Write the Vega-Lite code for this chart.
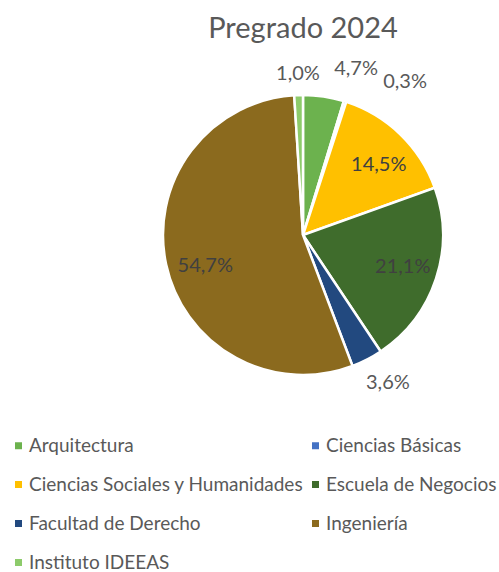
{
  "$schema": "https://vega.github.io/schema/vega-lite/v6.json",
  "width": 280,
  "height": 280,
  "autosize": "none",
  "padding": {"left": 163, "top": 95, "right": 56, "bottom": 197},
  "background": "white",
  "title": {"text": "Pregrado 2024", "fontSize": 29, "font": "Lato", "fontWeight": "normal", "color": "#595959", "anchor": "middle", "frame": "group", "offset": 13},
  "data": {"values": [
    {"Facultad": "Arquitectura", "Porcentaje": 0.047},
    {"Facultad": "Ciencias Básicas", "Porcentaje": 0.003},
    {"Facultad": "Ciencias Sociales y Humanidades", "Porcentaje": 0.145},
    {"Facultad": "Escuela de Negocios", "Porcentaje": 0.211},
    {"Facultad": "Facultad de Derecho", "Porcentaje": 0.036},
    {"Facultad": "Ingeniería", "Porcentaje": 0.547},
    {"Facultad": "Instituto IDEEAS", "Porcentaje": 0.010}
  ]},
  "encoding": {
    "theta": {"field": "Porcentaje", "type": "quantitative", "stack": true},
    "order": {"field": "Facultad", "type": "nominal"}
  },
  "layer": [
    {
      "mark": {"type": "arc", "outerRadius": 140, "stroke": "white", "strokeWidth": 2.5},
      "encoding": {
        "color": {
          "field": "Facultad", "type": "nominal",
          "scale": {
            "domain": ["Arquitectura", "Ciencias Sociales y Humanidades", "Facultad de Derecho", "Instituto IDEEAS", "Ciencias Básicas", "Escuela de Negocios", "Ingeniería"],
            "range": ["#6CB24E", "#FFC000", "#22497F", "#8DCB6B", "#4472C4", "#3F6C2C", "#8B6A1E"]
          },
          "legend": {
            "title": null, "orient": "none", "legendX": -154, "legendY": 341, "columns": 2,
            "symbolType": "square", "symbolSize": 49, "symbolStrokeWidth": 0,
            "labelFont": "Lato", "labelFontSize": 19, "labelColor": "#595959",
            "labelOffset": 1, "rowPadding": 19, "columnPadding": 2, "labelLimit": 400, "padding": 0
          }
        }
      }
    },
    {
      "mark": {"type": "text", "radius": 103, "dx": 3, "dy": 9, "font": "Lato", "fontSize": 20, "color": "#404040"},
      "encoding": {
        "text": {"condition": {"test": "datum.Facultad == 'Ingeniería'", "field": "Porcentaje", "format": ".1%"}, "value": ""}
      }
    },
    {
      "mark": {"type": "text", "radius": 103, "dx": 4, "dy": 4, "font": "Lato", "fontSize": 20, "color": "#404040"},
      "encoding": {
        "text": {"condition": {"test": "datum.Facultad == 'Ciencias Sociales y Humanidades'", "field": "Porcentaje", "format": ".1%"}, "value": ""}
      }
    },
    {
      "mark": {"type": "text", "radius": 103, "dx": 2, "font": "Lato", "fontSize": 20, "color": "#404040"},
      "encoding": {
        "text": {"condition": {"test": "datum.Facultad == 'Escuela de Negocios'", "field": "Porcentaje", "format": ".1%"}, "value": ""}
      }
    },
    {
      "mark": {"type": "text", "radius": 161, "font": "Lato", "fontSize": 20, "color": "#595959"},
      "encoding": {
        "text": {"condition": {"test": "datum.Facultad == 'Instituto IDEEAS'", "field": "Porcentaje", "format": ".1%"}, "value": ""}
      }
    },
    {
      "mark": {"type": "text", "radius": 166, "dx": 9, "font": "Lato", "fontSize": 20, "color": "#595959"},
      "encoding": {
        "text": {"condition": {"test": "datum.Facultad == 'Facultad de Derecho'", "field": "Porcentaje", "format": ".1%"}, "value": ""}
      }
    },
    {
      "mark": {"type": "text", "radius": 170, "dx": 28, "dy": 2, "font": "Lato", "fontSize": 20, "color": "#595959"},
      "encoding": {
        "text": {"condition": {"test": "datum.Facultad == 'Arquitectura'", "field": "Porcentaje", "format": ".1%"}, "value": ""}
      }
    },
    {
      "mark": {"type": "text", "radius": 170, "dx": 51, "dy": 9, "font": "Lato", "fontSize": 20, "color": "#595959"},
      "encoding": {
        "text": {"condition": {"test": "datum.Facultad == 'Ciencias Básicas'", "field": "Porcentaje", "format": ".1%"}, "value": ""}
      }
    }
  ],
  "config": {
    "view": {"stroke": null},
    "locale": {"number": {"decimal": ",", "thousands": ".", "grouping": [3], "currency": ["", " €"]}}
  }
}
